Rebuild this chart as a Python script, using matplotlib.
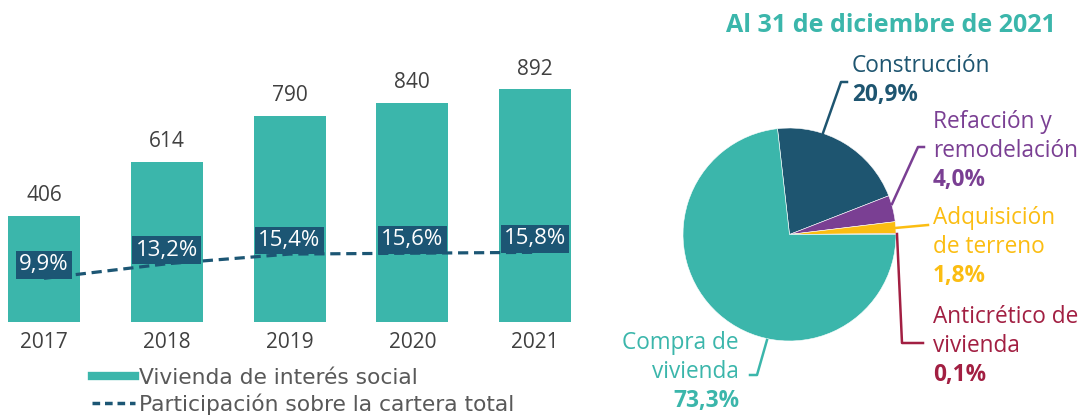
import matplotlib
matplotlib.use("Agg")
import matplotlib.pyplot as plt
from matplotlib.lines import Line2D

# data
years = ["2017", "2018", "2019", "2020", "2021"]
vivienda = [406, 614, 790, 840, 892]
participacion = [9.9, 13.2, 15.4, 15.6, 15.8]

pie_names = ["Construcción", "Refacción y\nremodelación", "Adquisición\nde terreno",
             "Anticrético de\nvivienda", "Compra de\nvivienda"]
pie_shares = [20.9, 4.0, 1.8, 0.1, 73.3]

TEAL = "#3bb6ab"
NAVY = "#1c5674"
pie_colors = ["#1e5570", "#7a3f93", "#fbbd12", "#a21f42", TEAL]

plt.rcParams["font.family"] = ["Open Sans", "DejaVu Sans"]

W, H = 1088, 416
fig = plt.figure(figsize=(W / 100, H / 100), dpi=100)


def fmt(v):
    return f"{v:.1f}".replace(".", ",") + "%"


# ---- bar chart ----
step = 122.75
x0 = -44 / step
ax = fig.add_axes([0, (H - 322) / H, 580 / W, 282 / H])
x = range(len(years))
ax.bar(x, vivienda, width=72 / step, color=TEAL, zorder=2)
ax.set_xlim(x0, x0 + 580 / step)
ax.set_ylim(0, 282 / 0.2612)
for i, v in enumerate(vivienda):
    ax.annotate(str(v), (i, v), xytext=(0, 20), textcoords="offset pixels",
                ha="center", va="center", fontsize=15, color="#404040")
    ax.annotate(years[i], (i, 0), xytext=(0, -20), textcoords="offset pixels",
                ha="center", va="center", fontsize=15, color="#404040")
ax.axis("off")

ax2 = ax.twinx()
ax2.set_ylim(0, 282 / 4.41)
ax2.plot(x, participacion, color=NAVY, lw=2.3, ls=(0, (3.2, 1.8)), zorder=3)
for i, p in enumerate(participacion):
    ax2.annotate(fmt(p), (i, p), xytext=(0, 3), textcoords="offset pixels",
                 ha="center", va="bottom", fontsize=16, color="white",
                 bbox=dict(boxstyle="square,pad=0.15", fc=NAVY, ec="none"))
ax2.axis("off")

# legend
handles = [Line2D([], [], color=TEAL, lw=6),
           Line2D([], [], color=NAVY, lw=2.5, ls=(0, (2.2, 1.4)))]
fig.legend(handles, ["Vivienda de interés social", "Participación sobre la cartera total"],
           loc="upper left", bbox_to_anchor=(92 / W, (H - 368) / H), frameon=False,
           handlelength=1.95, handletextpad=0.2, labelspacing=0.25,
           borderpad=0, borderaxespad=0,
           prop={"family": "DejaVu Sans", "size": 15.7}, labelcolor="#595959")

# ---- pie ----
cx, cy, r = 789.5, 234.5, 106.5
axp = fig.add_axes([(cx - r) / W, (H - cy - r) / H, 2 * r / W, 2 * r / H])
start = 360 * sum(pie_shares[:4]) / 100
axp.pie(pie_shares, colors=pie_colors, startangle=start, counterclock=False,
        radius=1, wedgeprops=dict(linewidth=0.4, edgecolor="white"))
axp.set_xlim(-1, 1)
axp.set_ylim(-1, 1)
axp.set_aspect("equal")

# overlay in pixel coords for title, labels and leader lines
ov = fig.add_axes([0, 0, 1, 1], zorder=5)
ov.set_xlim(0, W)
ov.set_ylim(H, 0)
ov.axis("off")

ov.text(891, 25, "Al 31 de diciembre de 2021", ha="center", va="center",
        fontsize=18, fontweight="bold", color=TEAL)

label_pos = [(852, 66, "left"), (933, 122, "left"), (933, 218, "left"),
             (933, 317, "left"), (739, 343, "right")]
leaders = [
    [(823, 133), (841, 82), (847, 82)],
    [(892, 204), (918, 147), (924, 147)],
    [(895, 228), (928, 225)],
    [(897, 234), (902, 343), (923, 343)],
    [(767, 340), (757, 375), (750, 375)],
]
for name, share, col, (lx, ly, ha), pts in zip(pie_names, pie_shares, pie_colors,
                                               label_pos, leaders):
    lines = name.split("\n")
    for k, t in enumerate(lines):
        ov.text(lx, ly + 29 * k, t, ha=ha, va="center", fontsize=16.3, color=col)
    ov.text(lx, ly + 29 * len(lines), fmt(share), ha=ha, va="center",
            fontsize=16.3, fontweight="bold", color=col)
    ov.plot([p[0] for p in pts], [p[1] for p in pts], color=col, lw=1.8)

fig.savefig("out.png", dpi=100)
